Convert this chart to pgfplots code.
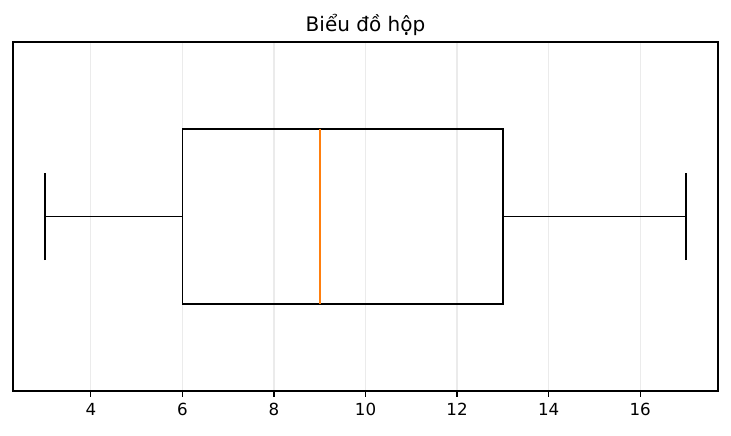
\documentclass[border=0pt]{standalone}
\usepackage{fontspec}
\setmainfont{DejaVu Sans}
\usepackage{pgfplots}
\pgfplotsset{compat=1.18}
\definecolor{mplorange}{HTML}{FF7F0E}
\definecolor{gridgray}{HTML}{EBEBEB}
\begin{document}
\begin{tikzpicture}
\begin{axis}[
  scale only axis,
  width=423pt, height=209.4pt,
  xmin=2.3, xmax=17.7,
  ymin=0.5, ymax=1.5,
  xtick={4,6,8,10,12,14,16},
  ytick=\empty,
  xmajorgrids,
  major grid style={gridgray, line width=0.8pt},
  axis line style={line width=0.8pt},
  tick style={black, line width=0.8pt},
  tick align=outside,
  xtick pos=bottom,
  major tick length=3.5pt,
  ticklabel style={font=\fontsize{10}{12}\selectfont},
  /pgf/number format/assume math mode=true,
  xticklabel style={yshift=-0.5pt},
  title={Biểu đồ hộp},
  title style={font=\fontsize{12}{14}\selectfont, yshift=-5.5pt},
]
% box (Q1=6, Q3=13)
\addplot[black, line width=1pt, mark=none] coordinates {(6,0.75) (13,0.75) (13,1.25) (6,1.25) (6,0.75)};
% whiskers
\addplot[black, line width=1pt, mark=none] coordinates {(3,1) (6,1)};
\addplot[black, line width=1pt, mark=none] coordinates {(13,1) (17,1)};
% caps
\addplot[black, line width=1pt, mark=none] coordinates {(3,0.875) (3,1.125)};
\addplot[black, line width=1pt, mark=none] coordinates {(17,0.875) (17,1.125)};
% median
\addplot[mplorange, line width=1pt, mark=none] coordinates {(9,0.75) (9,1.25)};
\end{axis}
\path (current axis.south west) ++(-7.8pt,-27pt) (current axis.north east) ++(7.8pt,25.2pt);
\end{tikzpicture}
\end{document}
